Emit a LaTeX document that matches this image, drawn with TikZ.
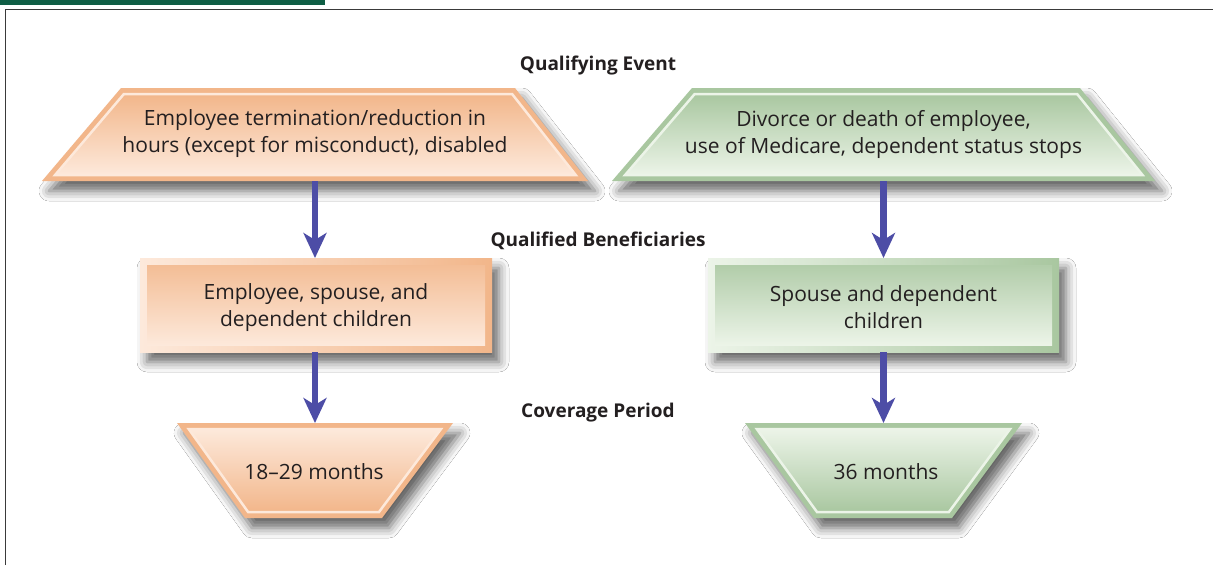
\documentclass[tikz,border=0pt]{standalone}
\usepackage{fontspec}
\setmainfont{Open Sans}
\usetikzlibrary{arrows.meta,shadows.blur}
\definecolor{odark}{HTML}{F2B68A}
\definecolor{olight}{HTML}{FDE9DB}
\definecolor{gdark}{HTML}{A9C7A0}
\definecolor{glight}{HTML}{ECF4E8}
\definecolor{arrowblue}{HTML}{4D4DA6}
\definecolor{txtgray}{HTML}{231F20}
\definecolor{framegray}{HTML}{3A3A3A}
\definecolor{bargreen}{HTML}{0F5E45}
\begin{document}
\begin{tikzpicture}[x=1pt,y=1pt,
  shade/.style={blur shadow={shadow xshift=7pt,shadow yshift=-10pt,shadow blur radius=10pt,shadow opacity=60}},
  hold/.style={inner sep=0pt,outer sep=0pt},
  txt/.style={text=txtgray,font=\fontsize{21}{27}\selectfont,align=center},
  lbl/.style={text=txtgray,font=\fontsize{19}{22}\selectfont\bfseries},
  arr/.style={draw=arrowblue,line width=6.5pt,-{Stealth[length=25pt,width=23pt,inset=7pt]}}]
\useasboundingbox (0,0) rectangle (1213,-565);
\fill[white] (0,0) rectangle (1213,-565);
\fill[bargreen] (0,0) rectangle (325,-5);
\draw[framegray,line width=1.3pt] (5.5,-565) -- (5.5,-9.5) -- (1213,-9.5);

% ---------- shapes, left column ----------
\path[shade,fill=odark] (42,-181) -- (121,-88) -- (515,-88) -- (588,-181) -- cycle;
\path[top color=odark,bottom color=olight,draw=olight,line width=2.5pt]
  (55.1,-175) -- (123.9,-94) -- (512.1,-94) -- (575.7,-175) -- cycle;

\path[shade,left color=olight,right color=odark] (140,-258) rectangle (492,-352);
\path[top color=odark!90,bottom color=olight] (147,-265) rectangle (485,-345);

\path[shade,fill=odark] (177,-423) -- (453,-423) -- (382,-518) -- (245,-518) -- cycle;
\path[top color=olight,bottom color=odark,draw=olight,line width=2.5pt]
  (188.7,-429) -- (441,-429) -- (379,-512) -- (248.1,-512) -- cycle;

% ---------- shapes, right column ----------
\path[shade,fill=gdark] (612,-181) -- (692,-88) -- (1080,-88) -- (1155,-181) -- cycle;
\path[top color=gdark,bottom color=glight,draw=glight,line width=2.5pt]
  (625.1,-175) -- (694.7,-94) -- (1077.1,-94) -- (1142.5,-175) -- cycle;

\path[shade,left color=glight,right color=gdark] (708,-258) rectangle (1059,-352);
\path[top color=gdark!90,bottom color=glight] (715,-265) rectangle (1052,-345);

\path[shade,fill=gdark] (745,-423) -- (1022,-423) -- (952,-518) -- (814,-518) -- cycle;
\path[top color=glight,bottom color=gdark,draw=glight,line width=2.5pt]
  (756.8,-429) -- (1010.1,-429) -- (948.9,-512) -- (817,-512) -- cycle;

% ---------- holder nodes spanning the shapes ----------
\node[hold,minimum width=546pt,minimum height=93pt] (ev1) at (315,-134.5) {};
\node[hold,minimum width=352pt,minimum height=94pt] (ben1) at (316,-305) {};
\node[hold,minimum width=276pt,minimum height=95pt] (cov1) at (315,-470.5) {};
\node[hold,minimum width=543pt,minimum height=93pt] (ev2) at (883.5,-134.5) {};
\node[hold,minimum width=351pt,minimum height=94pt] (ben2) at (883.5,-305) {};
\node[hold,minimum width=277pt,minimum height=95pt] (cov2) at (883.5,-470.5) {};

% ---------- texts ----------
\node[txt] (ev1t) at (315,-134) {Employee termination/reduction in\\hours (except for misconduct), disabled};
\node[txt] (ev2t) at (883.5,-134) {Divorce or death of employee,\\use of Medicare, dependent status stops};
\node[txt] (ben1t) at (316,-307.5) {Employee, spouse, and\\dependent children};
\node[txt] (ben2t) at (883.5,-307.5) {Spouse and dependent\\children};
\node[txt] (cov1t) at (314,-471.5) {18–29 months};
\node[txt] (cov2t) at (886,-471.5) {36 months};

\node[lbl] (h1) at (598,-65.5) {Qualifying Event};
\node[lbl] (h2) at (598,-241) {Qualified Beneficiaries};
\node[lbl] (h3) at (598,-412.5) {Coverage Period};

% ---------- connectors ----------
\draw[arr] (ev1.south) -- (ev1.south |- ben1.north);
\draw[arr] (ev1.south |- ben1.south) -- (ev1.south |- cov1.north);
\draw[arr] (ev2.south) -- (ben2.north);
\draw[arr] (ben2.south) -- (cov2.north);
\end{tikzpicture}
\end{document}
